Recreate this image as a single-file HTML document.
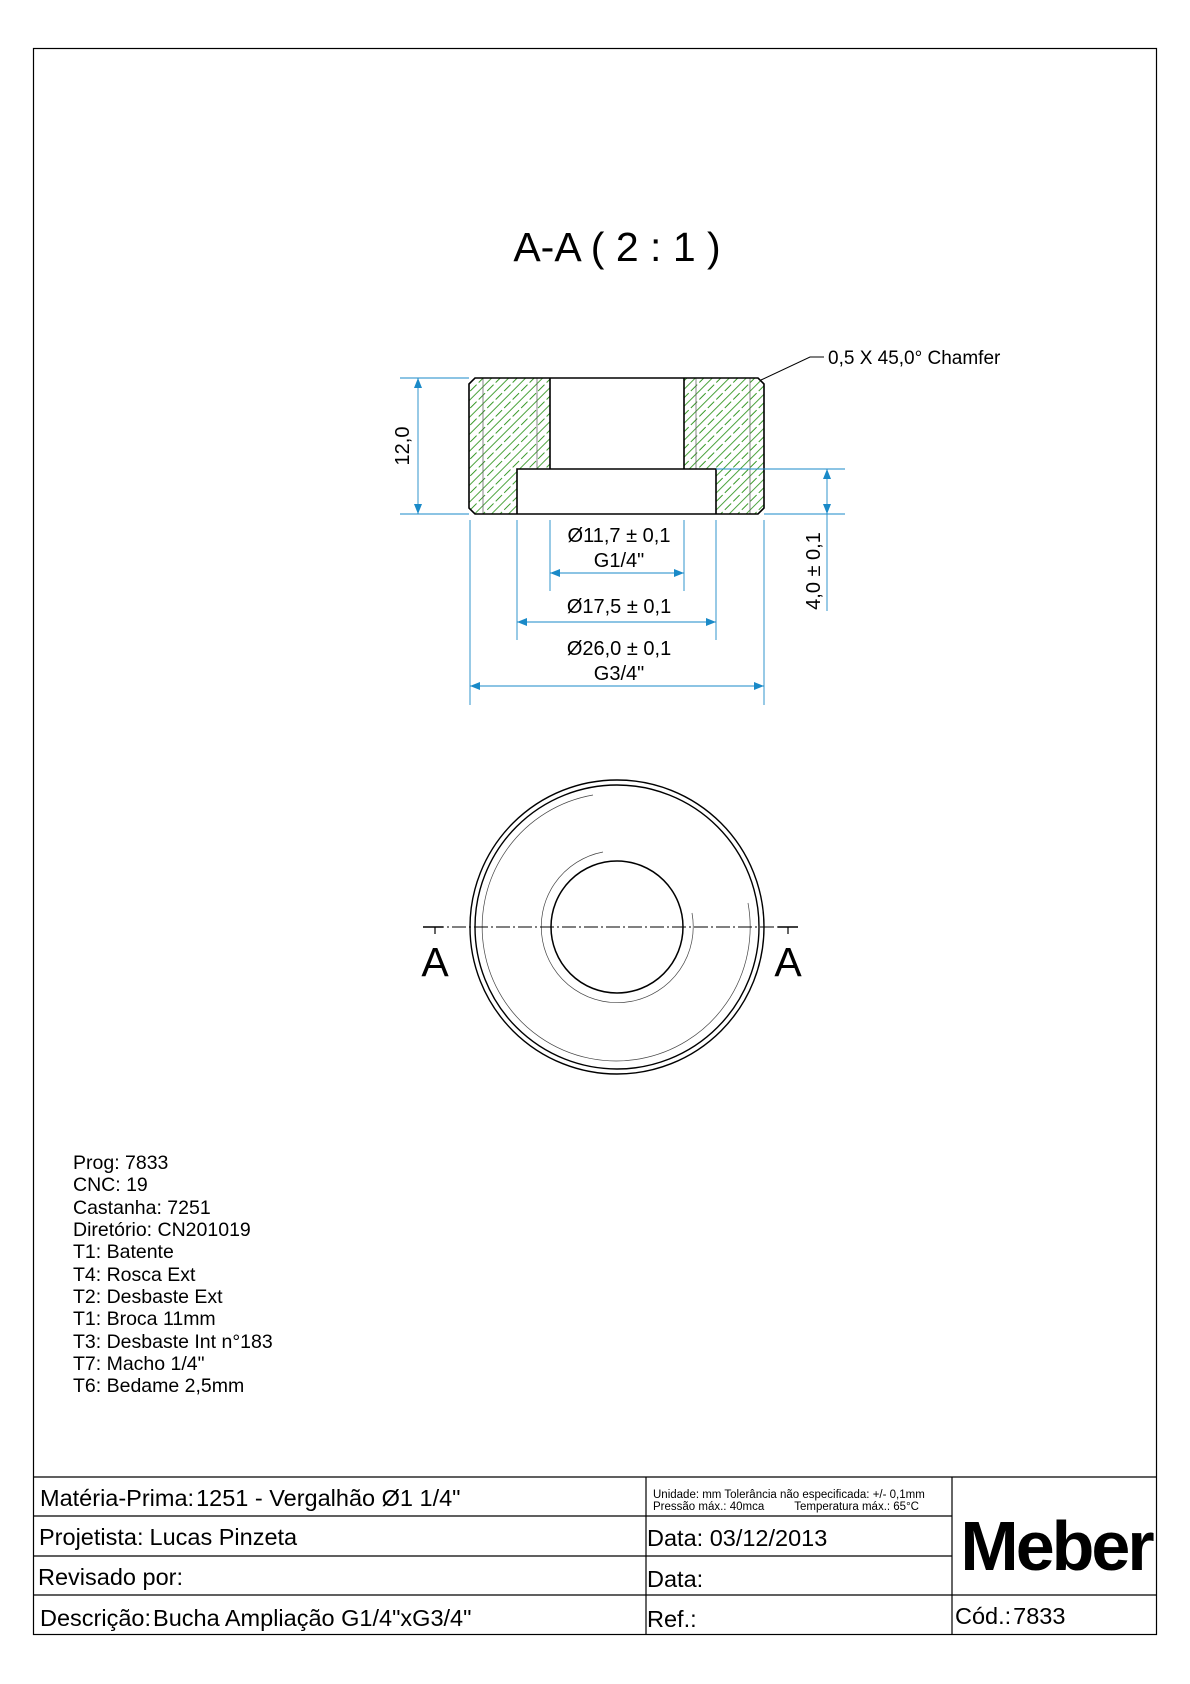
<!DOCTYPE html>
<html><head><meta charset="utf-8"><style>
html,body{margin:0;padding:0;background:#fff}
svg{display:block}
text{font-family:"Liberation Sans",Arial,sans-serif;fill:#000}
</style></head><body>
<svg width="1190" height="1684" viewBox="0 0 1190 1684" xmlns="http://www.w3.org/2000/svg">
<defs>
<pattern id="h" patternUnits="userSpaceOnUse" width="12" height="12" patternTransform="rotate(-45)">
<line x1="0" y1="3" x2="12" y2="3" stroke="#3a9a2a" stroke-width="0.9"/>
<line x1="0" y1="9" x2="12" y2="9" stroke="#3a9a2a" stroke-width="0.9" stroke-dasharray="5,3"/>
</pattern>
<marker id="ar" markerWidth="10" markerHeight="8" refX="10" refY="4" orient="auto" markerUnits="userSpaceOnUse">
<path d="M0,0 L10,4 L0,8 Z" fill="#1a8ac8"/></marker>
<marker id="al" markerWidth="10" markerHeight="8" refX="0" refY="4" orient="auto" markerUnits="userSpaceOnUse">
<path d="M10,0 L0,4 L10,8 Z" fill="#1a8ac8"/></marker>
</defs>
<rect x="33.5" y="48.5" width="1123" height="1586" fill="none" stroke="#000" stroke-width="1.2"/>
<text x="617" y="261" font-size="41" text-anchor="middle">A-A ( 2 : 1 )</text>

<!-- section -->
<path d="M469,384 L475,378 L550,378 L550,469 L517,469 L517,514 L475,514 L469,508 Z" fill="url(#h)"/>
<path d="M684,378 L758,378 L764,384 L764,508 L758,514 L716,514 L716,469 L684,469 Z" fill="url(#h)"/>
<g stroke="#555" stroke-width="0.7">
<line x1="483" y1="378" x2="483" y2="514"/><line x1="537" y1="378" x2="537" y2="469"/>
<line x1="696" y1="378" x2="696" y2="469"/><line x1="750" y1="378" x2="750" y2="514"/>
</g>
<g fill="none" stroke="#000" stroke-width="1.6">
<path d="M475,378 L758,378 L764,384 L764,508 L758,514 L475,514 L469,508 L469,384 Z"/>
<line x1="550" y1="378" x2="550" y2="469"/><line x1="684" y1="378" x2="684" y2="469"/>
<path d="M517,514 L517,469 L716,469 L716,514"/>
</g>
<polyline points="761,380 810,357 824,357" fill="none" stroke="#000" stroke-width="1"/>
<text x="828" y="364" font-size="19">0,5 X 45,0° Chamfer</text>

<!-- dims -->
<g stroke="#1a8ac8" stroke-width="0.9" fill="none">
<line x1="400" y1="378" x2="469" y2="378"/><line x1="400" y1="514" x2="469" y2="514"/>
<line x1="418" y1="378" x2="418" y2="514" marker-start="url(#al)" marker-end="url(#ar)"/>
<line x1="716" y1="469" x2="845" y2="469"/><line x1="764" y1="514" x2="845" y2="514"/>
<line x1="827" y1="469" x2="827" y2="514" marker-start="url(#al)" marker-end="url(#ar)"/>
<line x1="827" y1="514" x2="827" y2="611"/>
<line x1="550" y1="520" x2="550" y2="591"/><line x1="684" y1="520" x2="684" y2="591"/>
<line x1="550" y1="573" x2="684" y2="573" marker-start="url(#al)" marker-end="url(#ar)"/>
<line x1="517" y1="520" x2="517" y2="640"/><line x1="716" y1="520" x2="716" y2="640"/>
<line x1="517" y1="622" x2="716" y2="622" marker-start="url(#al)" marker-end="url(#ar)"/>
<line x1="470" y1="520" x2="470" y2="705"/><line x1="764" y1="520" x2="764" y2="705"/>
<line x1="470" y1="686" x2="764" y2="686" marker-start="url(#al)" marker-end="url(#ar)"/>
</g>
<g font-size="20" text-anchor="middle">
<text x="0" y="0" transform="translate(409,446) rotate(-90)">12,0</text>
<text x="0" y="0" transform="translate(820,571) rotate(-90)">4,0 ± 0,1</text>
<text x="619" y="542">Ø11,7 ± 0,1</text>
<text x="619" y="567">G1/4"</text>
<text x="619" y="613">Ø17,5 ± 0,1</text>
<text x="619" y="655">Ø26,0 ± 0,1</text>
<text x="619" y="680">G3/4"</text>
</g>

<!-- round view -->
<g fill="none" stroke="#000">
<circle cx="617" cy="927" r="147" stroke-width="1.4"/>
<circle cx="617" cy="927" r="142" stroke-width="1.4"/>
<circle cx="617" cy="927" r="66" stroke-width="1.5"/>
<path d="M593,795 A134,134 0 1 0 748,903" stroke-width="0.7" stroke="#444"/>
<path d="M603,852 A76,76 0 1 0 692,913" stroke-width="0.7" stroke="#444"/>
<line x1="430" y1="927" x2="797" y2="927" stroke-width="1" stroke-dasharray="14,3,2,3"/>
<line x1="423" y1="927" x2="443" y2="927" stroke-width="1.4"/>
<line x1="435" y1="927" x2="435" y2="934" stroke-width="1.2"/>
<line x1="778" y1="927" x2="798" y2="927" stroke-width="1.4"/>
<line x1="788" y1="927" x2="788" y2="934" stroke-width="1.2"/>
</g>
<text x="435" y="976" font-size="41" text-anchor="middle">A</text>
<text x="788" y="976" font-size="41" text-anchor="middle">A</text>

<!-- notes -->
<g font-size="19.5">
<text x="73" y="1169">Prog: 7833</text>
<text x="73" y="1191">CNC: 19</text>
<text x="73" y="1214">Castanha: 7251</text>
<text x="73" y="1236">Diretório: CN201019</text>
<text x="73" y="1258">T1: Batente</text>
<text x="73" y="1281">T4: Rosca Ext</text>
<text x="73" y="1303">T2: Desbaste Ext</text>
<text x="73" y="1325">T1: Broca 11mm</text>
<text x="73" y="1348">T3: Desbaste Int n°183</text>
<text x="73" y="1370">T7: Macho 1/4"</text>
<text x="73" y="1392">T6: Bedame 2,5mm</text>
</g>

<!-- table -->
<g stroke="#000" stroke-width="1.2" fill="none">
<line x1="33" y1="1477" x2="1157" y2="1477"/>
<line x1="33" y1="1516" x2="952" y2="1516"/>
<line x1="33" y1="1556" x2="952" y2="1556"/>
<line x1="33" y1="1595" x2="1157" y2="1595"/>
<line x1="646" y1="1477" x2="646" y2="1634"/>
<line x1="952" y1="1477" x2="952" y2="1634"/>
</g>
<g font-size="23.5">
<text x="40" y="1506">Matéria-Prima:<tspan dx="2">1251 - Vergalhão Ø1 1/4"</tspan></text>
<text x="39" y="1545">Projetista:<tspan dx="6">Lucas Pinzeta</tspan></text>
<text x="38" y="1585">Revisado por:</text>
<text x="40" y="1626">Descrição:<tspan dx="2">Bucha Ampliação G1/4"xG3/4"</tspan></text>
<text x="647" y="1546">Data: 03/12/2013</text>
<text x="647" y="1587">Data:</text>
<text x="647" y="1627">Ref.:</text>
<text x="955" y="1624">Cód.:<tspan dx="2">7833</tspan></text>
</g>
<text x="653" y="1498" font-size="11.5">Unidade: mm Tolerância não especificada: +/- 0,1mm</text>
<text x="653" y="1510" font-size="11.5">Pressão máx.: 40mca<tspan dx="30">Temperatura máx.: 65°C</tspan></text>
<text x="1056" y="1570" font-size="70" font-weight="bold" text-anchor="middle" letter-spacing="-3">Meber</text>
</svg>
</body></html>
